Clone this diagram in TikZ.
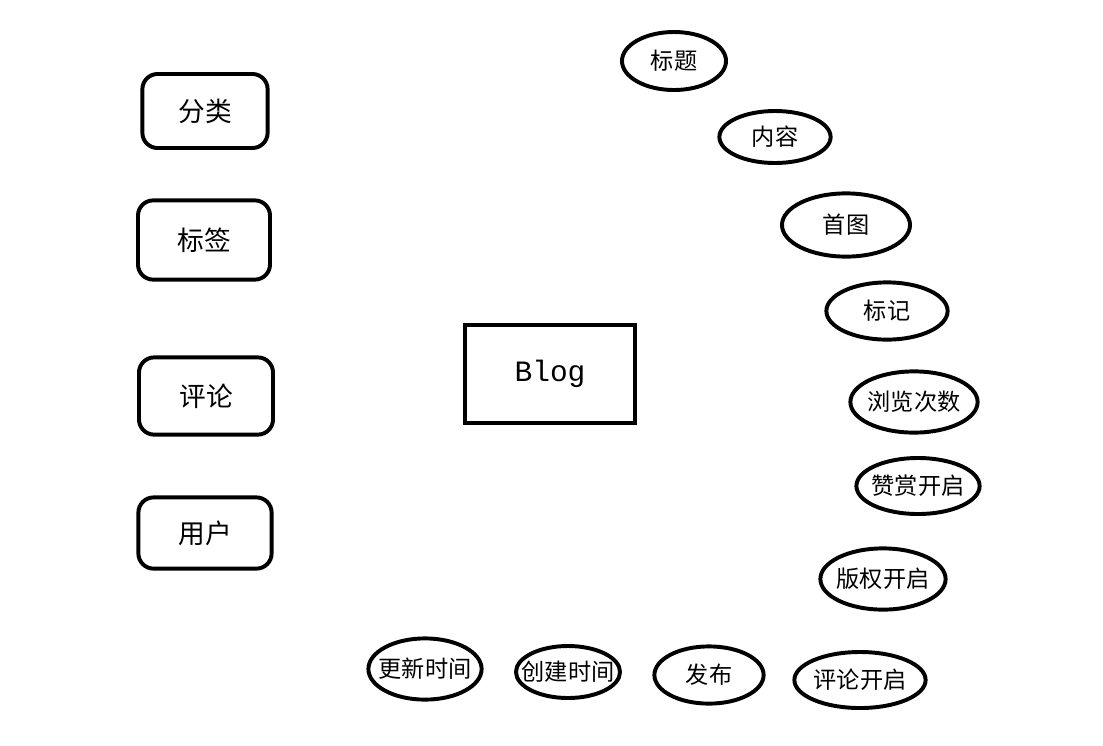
\documentclass[tikz,border=0pt]{standalone}
\usepackage{fontspec}
\newfontfamily\cjk{Noto Sans CJK SC}
\newfontfamily\blogfont{Liberation Mono}
\usetikzlibrary{shapes.geometric, positioning}

\begin{document}
\begin{tikzpicture}[x=0.025cm, y=-0.025cm,
    entity/.style={draw, line width=2.8pt, rounded corners=0.38cm,
                   inner sep=0pt, font=\cjk\fontsize{19}{19}\selectfont},
    attr/.style={draw, ellipse, line width=2.8pt, inner sep=0pt},
    attrtext/.style={inner sep=0pt, font=\cjk\fontsize{16.5}{16.5}\selectfont}]
  \useasboundingbox (0,0) rectangle (1103,745);

  % central entity
  \node[draw, line width=3.2pt, minimum width=4.25cm, minimum height=2.45cm,
        font=\blogfont\fontsize{21}{21}\selectfont] (blog) at (550,374) {Blog};

  % related entities
  \node[entity, minimum width=3.13cm, minimum height=1.85cm] (category) at (205,111) {分类};
  \node[entity, minimum width=3.3cm,  minimum height=1.98cm] (tag)      at (204,240) {标签};
  \node[entity, minimum width=3.35cm, minimum height=1.93cm] (comment)  at (206,396) {评论};
  \node[entity, minimum width=3.33cm, minimum height=1.78cm] (user)     at (205,533) {用户};

  % attributes, right side
  \node[attr, minimum width=2.6cm,  minimum height=1.45cm, label={[attrtext]center:标题}]     (title)      at (674,61)  {};
  \node[attr, minimum width=2.78cm, minimum height=1.3cm,  label={[attrtext]center:内容}]     (content)    at (775,137) {};
  \node[attr, minimum width=3.2cm,  minimum height=1.58cm, label={[attrtext]center:首图}]     (picture)    at (846,225) {};
  \node[attr, minimum width=3.03cm, minimum height=1.43cm, label={[attrtext]center:标记}]     (flag)       at (887,311) {};
  \node[attr, minimum width=3.18cm, minimum height=1.53cm, label={[attrtext]center:浏览次数}] (views)      at (914,402) {};
  \node[attr, minimum width=3.08cm, minimum height=1.4cm,  label={[attrtext]center:赞赏开启}] (appreciate) at (918,486) {};
  \node[attr, minimum width=3.13cm, minimum height=1.53cm, label={[attrtext]center:版权开启}] (copyright)  at (883,579) {};

  % attributes, bottom row
  \node[attr, minimum width=3.28cm, minimum height=1.4cm,  label={[attrtext]center:评论开启}] (commenton)  at (860,680) {};
  \node[attr, minimum width=2.73cm, minimum height=1.43cm, label={[attrtext]center:发布}]     (published)  at (709,675) {};
  \node[attr, minimum width=2.6cm,  minimum height=1.3cm,  label={[attrtext]center:创建时间}] (created)    at (568,672) {};
  \node[attr, minimum width=2.83cm, minimum height=1.53cm, label={[attrtext]center:更新时间}] (updated)    at (425,669) {};
\end{tikzpicture}
\end{document}
